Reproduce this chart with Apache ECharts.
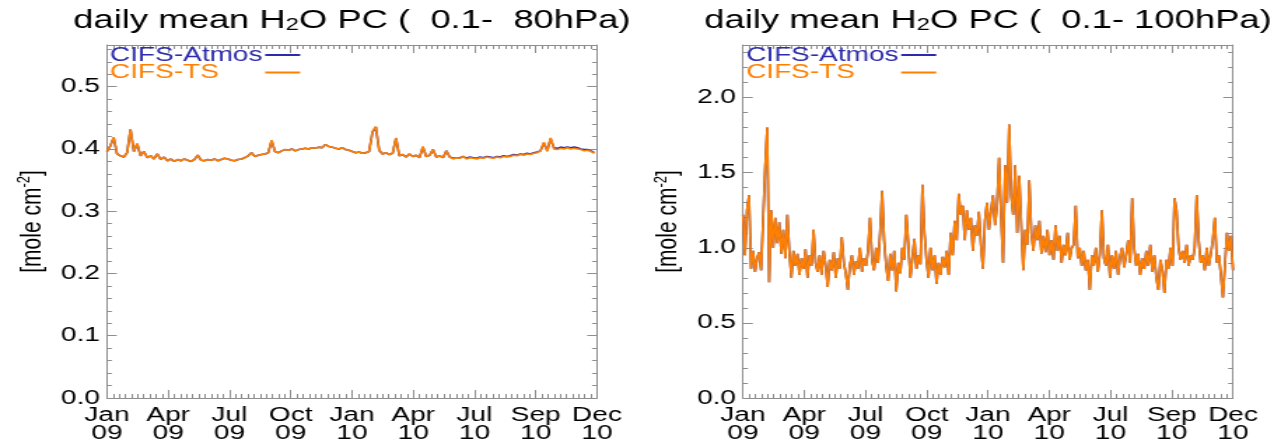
<!DOCTYPE html>
<html>
<head>
<meta charset="utf-8">
<title>daily mean H2O PC</title>
<script src="https://cdn.jsdelivr.net/npm/echarts@6/dist/echarts.min.js"></script>
<style>
    html, body { margin: 0; padding: 0; background: #fff; overflow: hidden; }
    /* the original figure is stretched sideways, so draw narrower and widen */
    #chart { width: 909px; height: 443px; transform: scaleX(1.4); transform-origin: 0 0; }
</style>
</head>
<body>
<div id="chart"></div>
<script>
// tick labels of the time axis (9 equal steps over 2009-2010)
const xTickLabels = ['Jan\n09', 'Apr\n09', 'Jul\n09', 'Oct\n09', 'Jan\n10', 'Apr\n10', 'Jul\n10', 'Sep\n10', 'Dec\n10'];
const seriesNames = ['CIFS-Atmos', 'CIFS-TS'];

// 0.1 - 80 hPa column, one value every 5 days from 1 Jan 2009
const stepDays80 = 5;
const ts80 = [
    0.396, 0.405, 0.419, 0.392, 0.389, 0.387, 0.394, 0.432, 0.396, 0.409,
    0.389, 0.396, 0.386, 0.389, 0.384, 0.392, 0.383, 0.387, 0.381, 0.384,
    0.380, 0.383, 0.381, 0.384, 0.382, 0.380, 0.383, 0.390, 0.382, 0.381,
    0.383, 0.382, 0.384, 0.381, 0.383, 0.385, 0.384, 0.382, 0.381, 0.383,
    0.384, 0.386, 0.389, 0.394, 0.388, 0.390, 0.391, 0.392, 0.394, 0.414,
    0.396, 0.394, 0.397, 0.399, 0.398, 0.400, 0.397, 0.399, 0.400, 0.401,
    0.400, 0.402, 0.401, 0.403, 0.402, 0.407, 0.404, 0.403, 0.401, 0.400,
    0.402, 0.399, 0.398, 0.396, 0.394, 0.395, 0.393, 0.394, 0.396, 0.428,
    0.436, 0.398, 0.392, 0.394, 0.391, 0.393, 0.418, 0.389, 0.391, 0.387,
    0.392, 0.388, 0.390, 0.386, 0.404, 0.388, 0.390, 0.399, 0.387, 0.389,
    0.386, 0.397, 0.387, 0.384, 0.386, 0.385, 0.388, 0.384, 0.386, 0.385,
    0.384, 0.386, 0.385, 0.387, 0.386, 0.385, 0.387, 0.386, 0.388, 0.387,
    0.388, 0.390, 0.389, 0.391, 0.390, 0.392, 0.391, 0.393, 0.394, 0.397,
    0.411, 0.396, 0.418, 0.400, 0.399, 0.401, 0.400, 0.402, 0.400, 0.401,
    0.400, 0.399, 0.397, 0.398, 0.396, 0.393
];
const atmos80 = [
    0.396, 0.405, 0.418, 0.392, 0.389, 0.387, 0.394, 0.431, 0.396, 0.408,
    0.389, 0.396, 0.386, 0.389, 0.384, 0.392, 0.383, 0.387, 0.381, 0.384,
    0.380, 0.383, 0.381, 0.384, 0.382, 0.380, 0.383, 0.390, 0.382, 0.381,
    0.383, 0.382, 0.384, 0.381, 0.383, 0.385, 0.384, 0.382, 0.381, 0.383,
    0.384, 0.386, 0.389, 0.394, 0.388, 0.390, 0.391, 0.392, 0.394, 0.413,
    0.396, 0.394, 0.397, 0.399, 0.398, 0.400, 0.397, 0.399, 0.400, 0.401,
    0.400, 0.402, 0.401, 0.403, 0.402, 0.407, 0.404, 0.403, 0.401, 0.400,
    0.402, 0.399, 0.398, 0.396, 0.394, 0.395, 0.393, 0.394, 0.396, 0.427,
    0.435, 0.398, 0.392, 0.394, 0.391, 0.393, 0.417, 0.389, 0.391, 0.387,
    0.392, 0.388, 0.390, 0.386, 0.403, 0.388, 0.390, 0.399, 0.387, 0.389,
    0.386, 0.397, 0.387, 0.385, 0.386, 0.386, 0.388, 0.385, 0.387, 0.386,
    0.385, 0.387, 0.386, 0.388, 0.387, 0.386, 0.388, 0.387, 0.389, 0.388,
    0.389, 0.391, 0.390, 0.392, 0.391, 0.393, 0.392, 0.394, 0.395, 0.397,
    0.409, 0.398, 0.416, 0.402, 0.401, 0.403, 0.402, 0.403, 0.402, 0.403,
    0.402, 0.400, 0.399, 0.399, 0.397, 0.394
];

// 0.1 - 100 hPa column, one value every 3 days from 1 Jan 2009
const stepDays100 = 3;
const ts100 = [
    1.22, 0.95, 1.25, 1.35, 0.86, 0.98, 0.84, 0.93, 0.97, 0.85,
    1.20, 1.53, 1.80, 0.77, 1.25, 1.00, 1.20, 1.03, 1.17, 0.96,
    1.12, 0.93, 1.22, 0.97, 0.80, 0.98, 0.88, 0.96, 0.82, 0.93,
    0.86, 0.99, 0.80, 0.95, 0.88, 1.12, 0.90, 0.84, 0.95, 0.82,
    0.98, 0.88, 0.74, 0.92, 0.85, 0.97, 0.80, 0.93, 0.86, 1.07,
    0.90, 0.83, 0.72, 0.88, 0.95, 0.82, 0.91, 0.86, 1.00, 0.84,
    0.93, 0.88, 0.98, 1.20, 0.92, 0.85, 1.00, 0.90, 1.10, 1.38,
    1.05, 0.88, 0.78, 0.96, 0.85, 0.98, 0.71, 0.90, 0.83, 1.00,
    0.92, 1.22, 1.02, 0.80, 0.93, 1.06, 0.86, 0.95, 0.89, 1.42,
    1.10, 0.92, 0.80, 1.00, 0.85, 0.95, 0.76, 0.90, 0.82, 0.94,
    0.87, 0.98, 0.82, 1.10, 0.95, 1.18, 1.05, 1.36, 1.22, 1.28,
    1.05, 1.25, 1.12, 1.20, 0.98, 1.15, 1.08, 1.24, 1.02, 0.86,
    1.18, 1.30, 1.12, 1.25, 1.35, 1.15, 1.28, 1.60, 1.20, 0.90,
    1.55, 1.30, 1.82, 1.35, 1.22, 1.55, 1.10, 1.48, 1.15, 0.85,
    1.12, 1.02, 1.45, 1.10, 0.98, 1.15, 1.05, 1.18, 0.96, 1.08,
    0.97, 1.12, 0.95, 1.05, 0.92, 1.15, 0.98, 1.08, 0.90, 1.02,
    0.95, 1.10, 0.92, 1.00, 1.02, 1.28, 0.93, 1.00, 0.88, 0.98,
    0.85, 0.92, 0.72, 0.95, 0.88, 1.00, 0.84, 0.96, 1.25, 0.93,
    0.88, 1.02, 0.80, 0.95, 0.86, 0.98, 0.82, 0.94, 1.00, 0.87,
    0.95, 1.05, 0.90, 1.33, 1.00, 0.88, 0.96, 0.82, 0.93, 0.86,
    0.98, 0.88, 1.02, 0.84, 0.95, 0.80, 0.72, 0.92, 0.85, 0.70,
    0.92, 0.86, 1.00, 0.88, 1.33, 1.25, 1.00, 0.92, 0.98, 0.90,
    1.02, 0.88, 0.95, 0.92, 1.00, 1.35, 1.05, 0.90, 0.95, 0.85,
    1.00, 0.88, 0.96, 1.05, 1.20, 0.90, 0.95, 0.82, 0.67, 0.88,
    1.10, 0.98, 1.08, 0.85
];
// CIFS-Atmos lies exactly under CIFS-TS in this panel
const atmos100 = ts100.slice();

// y ranges of the two frames
const yMax80 = 0.567;
const yMax100 = 2.35;

const xMax = 729;
const xStep = xMax / 8;
const FONT = '"Liberation Sans", Arial, Helvetica, sans-serif';
const GRAY = '#8e8e8e';
const BLUE = '#2b2bab';
const ORANGE = '#ff8000';

const toPoints = (values, step) => values.map((v, i) => [i * step, v]);

const makeX = (gridIndex, position) => ({
    type: 'value',
    gridIndex: gridIndex,
    position: position,
    min: 0,
    max: xMax,
    interval: xStep,
    axisLine: { show: true, onZero: false, lineStyle: { color: GRAY, width: 1 } },
    axisTick: { show: true, inside: true, length: 8, lineStyle: { color: GRAY } },
    minorTick: { show: true, splitNumber: 10, length: 4, lineStyle: { color: GRAY } },
    splitLine: { show: false },
    axisLabel: {
        show: position === 'bottom',
        margin: 8,
        color: '#000',
        fontFamily: FONT,
        fontSize: 20,
        lineHeight: 18,
        formatter: (v) => xTickLabels[Math.round(v / xStep)]
    }
});

const makeY = (gridIndex, position, max, interval, withName) => ({
    type: 'value',
    gridIndex: gridIndex,
    position: position,
    min: 0,
    max: max,
    interval: interval,
    name: withName ? '[mole cm{sup|-2}]' : '',
    nameLocation: 'middle',
    nameRotate: 90,
    nameGap: 41,
    nameTextStyle: {
        color: '#000',
        fontFamily: FONT,
        fontSize: 21,
        lineHeight: 24,
        rich: { sup: { fontSize: 13, fontFamily: FONT, color: '#000', verticalAlign: 'top' } }
    },
    axisLine: { show: true, onZero: false, lineStyle: { color: GRAY, width: 1 } },
    axisTick: { show: true, inside: true, length: 7, lineStyle: { color: GRAY } },
    minorTick: { show: true, splitNumber: 5, length: 3.5, lineStyle: { color: GRAY } },
    splitLine: { show: false },
    axisLabel: {
        show: position === 'left',
        showMaxLabel: false,
        margin: 5,
        color: '#000',
        fontFamily: FONT,
        fontSize: 20,
        formatter: (v) => v.toFixed(1)
    }
});

const makeTitle = (text, centerX) => ({
    text: text,
    left: centerX,
    textAlign: 'center',
    top: 8,
    padding: 0,
    textStyle: {
        color: '#000',
        fontFamily: FONT,
        fontWeight: 'normal',
        fontSize: 26,
        rich: { sub: { fontSize: 17, fontFamily: FONT, color: '#000', verticalAlign: 'bottom', padding: [6, 0, 0, 0] } }
    }
});

// legend names sit at the frame, the line keys share one column to the right
const makeLegendText = (left, top, name, color) => ({
    left: left - 5,
    top: top,
    itemWidth: 0,
    itemHeight: 0,
    icon: 'rect',
    itemStyle: { opacity: 0 },
    padding: 0,
    selectedMode: false,
    data: [name],
    textStyle: { color: color, fontFamily: FONT, fontSize: 20, padding: 0 }
});
const makeLegendKey = (left, top, name) => ({
    left: left,
    top: top,
    itemWidth: 25,
    itemHeight: 2,
    icon: 'rect',
    padding: 0,
    selectedMode: false,
    data: [name],
    formatter: () => ' ',
    textStyle: { fontFamily: FONT, fontSize: 20, padding: 0 }
});
const makeLegends = (gridLeft) => [
    makeLegendText(gridLeft + 2.2, 45, seriesNames[0], BLUE),
    makeLegendText(gridLeft + 2.2, 62.5, seriesNames[1], ORANGE),
    makeLegendKey(gridLeft + 113, 45, seriesNames[0]),
    makeLegendKey(gridLeft + 113, 62.5, seriesNames[1])
];

const makeLine = (name, values, step, color, gridAxis) => ({
    name: name,
    type: 'line',
    xAxisIndex: gridAxis,
    yAxisIndex: gridAxis,
    data: toPoints(values, step),
    symbol: 'none',
    showSymbol: false,
    lineStyle: { color: color, width: 1.6 },
    itemStyle: { color: color },
    animation: false
});

const gridLeft = [76.4, 530.7];
const myChart = echarts.init(document.getElementById('chart'));
const option = {
    backgroundColor: '#fff',
    animation: false,
    title: [
        makeTitle('daily mean H{sub|2}O PC (  0.1-  80hPa)', gridLeft[0] + 175),
        makeTitle('daily mean H{sub|2}O PC (  0.1- 100hPa)', gridLeft[1] + 175)
    ],
    legend: makeLegends(gridLeft[0]).concat(makeLegends(gridLeft[1])),
    grid: [
        { left: gridLeft[0], top: 45, width: 350, height: 353 },
        { left: gridLeft[1], top: 45, width: 350, height: 353 }
    ],
    // axis order: 0 left-panel main, 1 left-panel mirror, 2 right-panel main, 3 right-panel mirror
    xAxis: [makeX(0, 'bottom'), makeX(0, 'top'), makeX(1, 'bottom'), makeX(1, 'top')],
    yAxis: [
        makeY(0, 'left', yMax80, 0.1, true), makeY(0, 'right', yMax80, 0.1, false),
        makeY(1, 'left', yMax100, 0.5, true), makeY(1, 'right', yMax100, 0.5, false)
    ],
    series: [
        makeLine('CIFS-Atmos', atmos80, stepDays80, BLUE, 0),
        makeLine('CIFS-TS', ts80, stepDays80, ORANGE, 0),
        makeLine('CIFS-Atmos', atmos100, stepDays100, BLUE, 2),
        makeLine('CIFS-TS', ts100, stepDays100, ORANGE, 2)
    ]
};
myChart.setOption(option);
</script>
</body>
</html>
